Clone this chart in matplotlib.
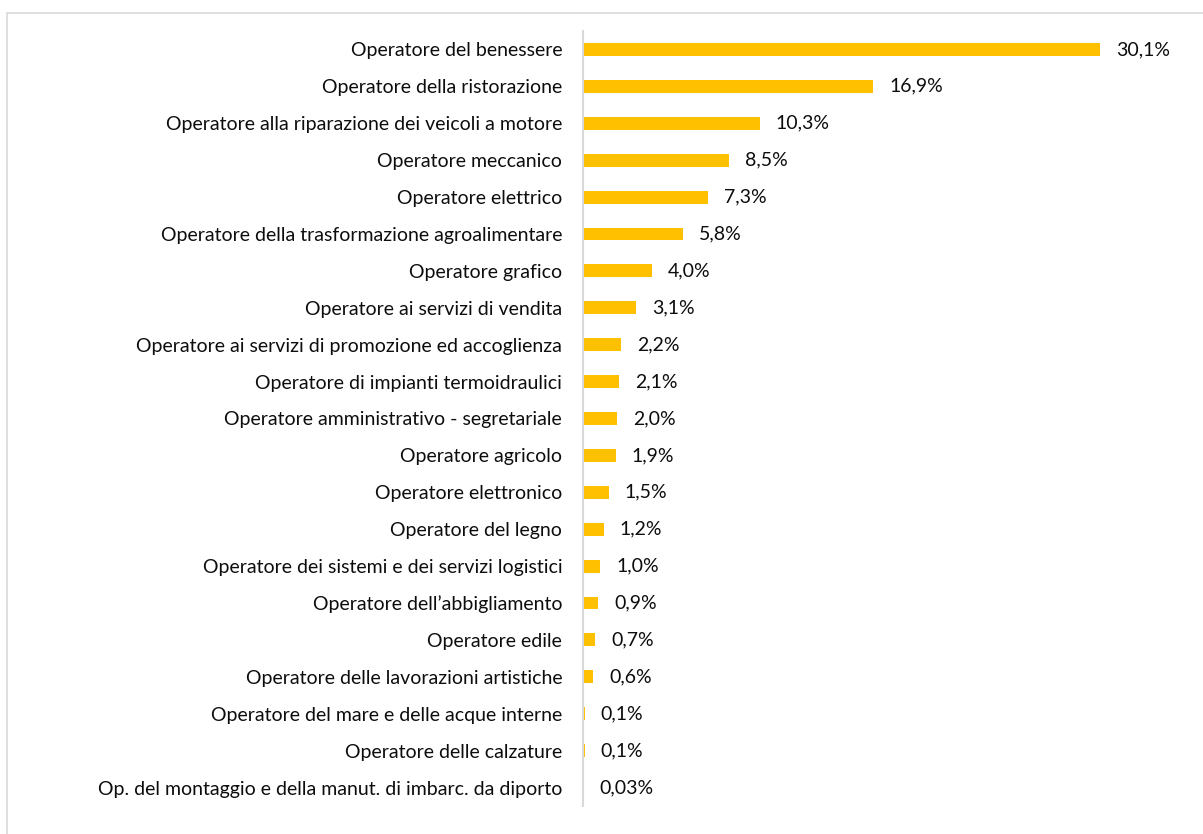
import matplotlib.pyplot as plt
from matplotlib.patches import Rectangle

plt.rcParams['font.family'] = ['Lato', 'DejaVu Sans']

categories = [
    'Operatore del benessere',
    'Operatore della ristorazione',
    'Operatore alla riparazione dei veicoli a motore',
    'Operatore meccanico',
    'Operatore elettrico',
    'Operatore della trasformazione agroalimentare',
    'Operatore grafico',
    'Operatore ai servizi di vendita',
    'Operatore ai servizi di promozione ed accoglienza',
    'Operatore di impianti termoidraulici',
    'Operatore amministrativo - segretariale',
    'Operatore agricolo',
    'Operatore elettronico',
    'Operatore del legno',
    'Operatore dei sistemi e dei servizi logistici',
    'Operatore dell\u2019abbigliamento',
    'Operatore edile',
    'Operatore delle lavorazioni artistiche',
    'Operatore del mare e delle acque interne',
    'Operatore delle calzature',
    'Op. del montaggio e della manut. di imbarc. da diporto',
]
values = [30.1, 16.9, 10.3, 8.5, 7.3, 5.8, 4.0, 3.1, 2.2, 2.1, 2.0, 1.9,
          1.5, 1.2, 1.0, 0.9, 0.7, 0.6, 0.1, 0.1, 0.03]
value_labels = ['30,1%', '16,9%', '10,3%', '8,5%', '7,3%', '5,8%', '4,0%',
                '3,1%', '2,2%', '2,1%', '2,0%', '1,9%', '1,5%', '1,2%',
                '1,0%', '0,9%', '0,7%', '0,6%', '0,1%', '0,1%', '0,03%']

fig = plt.figure(figsize=(12.03, 8.34), dpi=100)
ax = fig.add_axes([583 / 1203, 28 / 834, 600 / 1203, 775 / 834])

pos = list(range(len(categories)))
ax.barh(pos, values, height=0.35, color='#FFC000')
ax.set_ylim(len(categories) - 0.5, -0.5)
ax.set_xlim(0, 30.1 * 600 / 517)

ax.set_yticks(pos)
ax.set_yticklabels(categories, fontsize=14, color='#0d0d0d')
ax.tick_params(axis='y', length=0, pad=15)
ax.set_xticks([])

for s in ['top', 'right', 'bottom']:
    ax.spines[s].set_visible(False)
ax.spines['left'].set_color('#d9d9d9')
ax.spines['left'].set_linewidth(1.5)

for p, v, lab in zip(pos, values, value_labels):
    ax.annotate(lab, (v, p), xytext=(11.5, 0), textcoords='offset points',
                va='center', ha='left', fontsize=14, color='#0d0d0d')

# light frame around the chart area
fig.patches.append(Rectangle((7 / 1203, -0.1), 1.2, (834 - 13) / 834 + 0.1,
                             transform=fig.transFigure, fill=False,
                             edgecolor='#d9d9d9', linewidth=1.2))

fig.savefig('out.png', dpi=100)
